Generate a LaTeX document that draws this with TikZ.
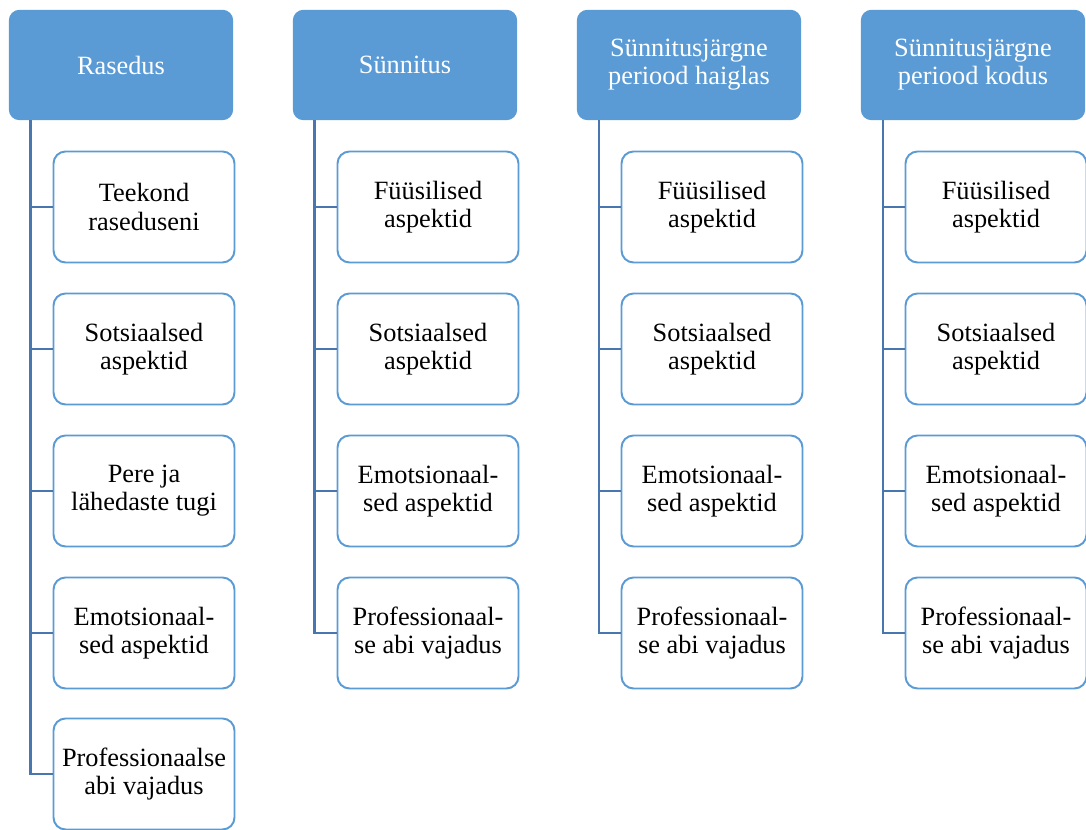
\documentclass[tikz,border=0pt]{standalone}
\usepackage{fontspec}
\setmainfont{Liberation Serif}
\definecolor{headblue}{HTML}{5B9BD5}
\definecolor{lineblue}{HTML}{4777AE}
\tikzset{
  phase/.style={draw=headblue, fill=headblue, rounded corners=0.2cm, line width=0.8pt,
    minimum width=4.46cm, minimum height=2.18cm, align=center, text=white,
    font=\fontsize{15}{16}\selectfont},
  topic/.style={draw=headblue, fill=white, rounded corners=0.24cm, line width=1.1pt,
    minimum width=3.62cm, minimum height=2.22cm, align=center,
    font=\fontsize{15}{16}\selectfont},
  branch/.style={draw=lineblue, line width=1.5pt}
}
\begin{document}
\begin{tikzpicture}[x=0.02cm, y=-0.02cm]
\useasboundingbox (0,0) rectangle (1086,830);

% Column headers
\node[phase] (h1) at (121, 65) {Rasedus};
\node[phase] (h2) at (405, 65) {Sünnitus};
\node[phase] (h3) at (689, 65) {Sünnitusjärgne\\periood haiglas};
\node[phase] (h4) at (973, 65) {Sünnitusjärgne\\periood kodus};

% Rasedus
\node[topic] (c11) at (144, 207) {Teekond\\raseduseni};
\node[topic] (c12) at (144, 349) {Sotsiaalsed\\aspektid};
\node[topic] (c13) at (144, 491) {Pere ja\\lähedaste tugi};
\node[topic] (c14) at (144, 633) {Emotsionaal-\\sed aspektid};
\node[topic] (c15) at (144, 774) {Professionaalse\\abi vajadus};

% Sünnitus
\node[topic] (c21) at (428, 207) {Füüsilised\\aspektid};
\node[topic] (c22) at (428, 349) {Sotsiaalsed\\aspektid};
\node[topic] (c23) at (428, 491) {Emotsionaal-\\sed aspektid};
\node[topic] (c24) at (428, 633) {Professionaal-\\se abi vajadus};

% Sünnitusjärgne periood haiglas
\node[topic] (c31) at (712, 207) {Füüsilised\\aspektid};
\node[topic] (c32) at (712, 349) {Sotsiaalsed\\aspektid};
\node[topic] (c33) at (712, 491) {Emotsionaal-\\sed aspektid};
\node[topic] (c34) at (712, 633) {Professionaal-\\se abi vajadus};

% Sünnitusjärgne periood kodus
\node[topic] (c41) at (996, 207) {Füüsilised\\aspektid};
\node[topic] (c42) at (996, 349) {Sotsiaalsed\\aspektid};
\node[topic] (c43) at (996, 491) {Emotsionaal-\\sed aspektid};
\node[topic] (c44) at (996, 633) {Professionaal-\\se abi vajadus};

% Connectors
\foreach \c in {c11,c12,c13,c14,c15}
  \draw[branch] ([xshift=0.44cm]h1.south west) |- (\c.west);
\foreach \c in {c21,c22,c23,c24}
  \draw[branch] ([xshift=0.44cm]h2.south west) |- (\c.west);
\foreach \c in {c31,c32,c33,c34}
  \draw[branch] ([xshift=0.44cm]h3.south west) |- (\c.west);
\foreach \c in {c41,c42,c43,c44}
  \draw[branch] ([xshift=0.44cm]h4.south west) |- (\c.west);
\end{tikzpicture}
\end{document}
